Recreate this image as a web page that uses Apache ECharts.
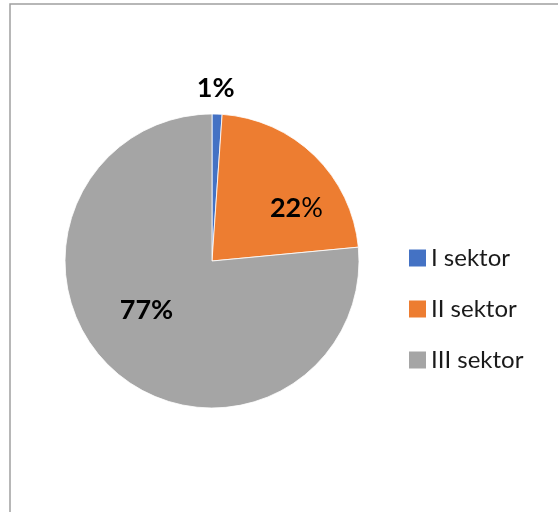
<!DOCTYPE html>
<html>
<head>
<meta charset="utf-8">
<script src="https://cdn.jsdelivr.net/npm/echarts@6/dist/echarts.min.js"></script>
<style>
html,body{margin:0;padding:0;background:#fff;}
#c{width:558px;height:512px;}
</style>
</head>
<body>
<div id="c"></div>
<script>
var categories = ['I sektor', 'II sektor', 'III sektor'];
var values = [1.1, 22.4, 76.5];
var colors = ['#4472C4', '#ED7D31', '#A5A5A5'];
// label offsets relative to ECharts' inside label position
var labelOffsets = [[1, -96], [31, 2], [-14, -7]];

var chart = echarts.init(document.getElementById('c'));
var data = categories.map(function (name, i) {
  return {
    name: name,
    value: values[i],
    itemStyle: { color: colors[i] },
    label: { offset: labelOffsets[i] }
  };
});

chart.setOption({
  animation: false,
  backgroundColor: '#fff',
  graphic: [{
    type: 'rect',
    shape: { x: 10, y: 4, width: 600, height: 560 },
    style: { fill: 'none', stroke: '#a0a0a0', lineWidth: 1.5 },
    silent: true
  }],
  legend: {
    orient: 'vertical',
    left: 404,
    top: 241,
    itemWidth: 17,
    itemHeight: 17,
    itemGap: 27,
    icon: 'rect',
    itemStyle: { borderWidth: 0 },
    textStyle: { fontFamily: 'Lato', fontSize: 24, color: '#1a1a1a', lineHeight: 24, padding: [0, 0, 0, 0] },
    data: categories
  },
  series: [{
    type: 'pie',
    center: [212, 261],
    radius: 147,
    startAngle: 90,
    clockwise: true,
    percentPrecision: 0,
    itemStyle: { borderColor: '#fff', borderWidth: 0.8 },
    label: {
      show: true,
      position: 'inside',
      fontFamily: 'Lato',
      fontSize: 27,
      fontWeight: 'bold',
      color: '#000',
      formatter: function (p) {
        if (p.dataIndex === 1) return '{b|' + p.percent + '}{n|%}';
        return '{b|' + p.percent + '%}';
      },
      rich: {
        b: { fontFamily: 'Lato', fontSize: 27, fontWeight: 'bold', color: '#000' },
        n: { fontFamily: 'Lato', fontSize: 27, fontWeight: 'normal', color: '#000' }
      }
    },
    labelLine: { show: false },
    data: data
  }]
});
</script>
</body>
</html>
